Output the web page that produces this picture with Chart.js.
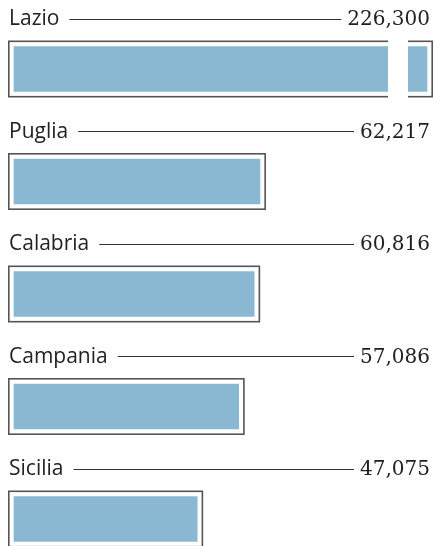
<!DOCTYPE html>
<html>
<head>
<meta charset="utf-8">
<script src="https://cdn.jsdelivr.net/npm/chart.js@4/dist/chart.umd.min.js"></script>
<style>
  html, body { margin: 0; padding: 0; background: #fff; }
  #wrap { width: 435px; height: 546px; overflow: hidden; }
</style>
</head>
<body>
<div id="wrap"><canvas id="c" width="435" height="546"></canvas></div>
<script>
const regions = ["Lazio", "Puglia", "Calabria", "Campania", "Sicilia"];
const values = [226300, 62217, 60816, 57086, 47075];
const axisMax = 102500;

const FILL = "#8ab8d2";
const FRAME = "#555555";
const TEXT = "#222222";

const decorations = {
  id: "decorations",
  beforeDatasetsDraw(chart) {
    const right = chart.chartArea.right;
    chart.getDatasetMeta(0).data.forEach(el => {
      if (el.x > right) el.x = right;
    });
  },
  afterDatasetsDraw(chart) {
    const ctx = chart.ctx;
    const area = chart.chartArea;
    const meta = chart.getDatasetMeta(0);
    ctx.save();
    meta.data.forEach((el, i) => {
      const top = el.y - el.height / 2;
      const bottom = el.y + el.height / 2;
      const left = el.base;
      const right = el.x;
      // outer frame
      ctx.strokeStyle = FRAME;
      ctx.lineWidth = 1.6;
      ctx.strokeRect(left + 0.8, top + 0.8, right - left - 1.6, bottom - top - 1.6);
      // axis break for values beyond the scale
      if (values[i] > axisMax) {
        ctx.fillStyle = "#fff";
        ctx.fillRect(area.right - 45, top - 2, 20, bottom - top + 4);
      }
      // label, leader line and value
      const baseline = el.y - 43.8;
      ctx.font = "21px 'Open Sans'";
      ctx.fillStyle = TEXT;
      ctx.textAlign = "left";
      ctx.textBaseline = "alphabetic";
      ctx.fillText(regions[i], area.left + 1, baseline);
      const labelEnd = area.left + 1 + ctx.measureText(regions[i]).width;
      ctx.font = "20px 'DejaVu Serif'";
      ctx.textAlign = "right";
      const valText = values[i].toLocaleString("en-US");
      const valRight = 430;
      ctx.fillText(valText, valRight, baseline);
      const valStart = valRight - ctx.measureText(valText).width;
      ctx.strokeStyle = "#333";
      ctx.lineWidth = 1;
      ctx.beginPath();
      const ly = Math.round(baseline - 6.5) + 0.5;
      ctx.moveTo(labelEnd + 10, ly);
      ctx.lineTo(Math.min(355, valStart - 6), ly);
      ctx.stroke();
    });
    ctx.restore();
  }
};

new Chart(document.getElementById("c"), {
  type: "bar",
  data: {
    labels: regions,
    datasets: [{
      data: values,
      backgroundColor: FILL,
      borderColor: "#ffffff",
      borderWidth: 6,
      borderSkipped: false,
      barThickness: 57,
      clip: false
    }]
  },
  options: {
    indexAxis: "y",
    responsive: false,
    animation: false,
    devicePixelRatio: 1,
    layout: { padding: { left: 8, right: 2, top: 69, bottom: 27 } },
    scales: {
      x: { display: false, min: 0, max: axisMax },
      y: { display: false, offset: false }
    },
    plugins: {
      legend: { display: false },
      tooltip: { enabled: false }
    }
  },
  plugins: [decorations]
});
</script>
</body>
</html>
